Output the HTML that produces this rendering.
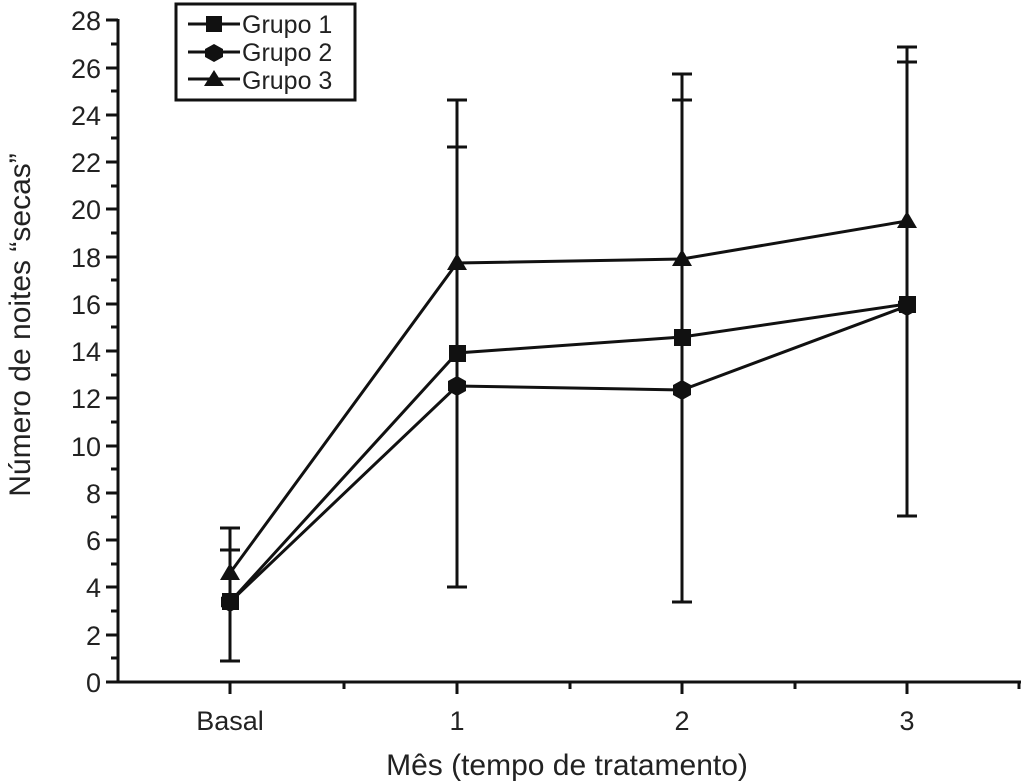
<!DOCTYPE html>
<html><head><meta charset="utf-8"><style>
body{margin:0;background:#fff}
svg{display:block}
text{font-family:"Liberation Sans",sans-serif;fill:#222}
</style></head><body>
<svg width="1024" height="782" viewBox="0 0 1024 782" xmlns="http://www.w3.org/2000/svg">
<g stroke="#111" stroke-width="3" fill="none">
<line x1="118" y1="19" x2="118" y2="683"/>
<line x1="117" y1="682" x2="1021" y2="682"/>
<path d="M106 682H118M106 635H118M106 587H118M106 540H118M106 493H118M106 446H118M106 398H118M106 351H118M106 304H118M106 257H118M106 209H118M106 162H118M106 115H118M106 68H118M106 20H118"/>
<path d="M111 658H118M111 611H118M111 564H118M111 517H118M111 469H118M111 422H118M111 375H118M111 327H118M111 280H118M111 233H118M111 186H118M111 138H118M111 91H118M111 44H118"/>
<path d="M230 682V694M457 682V694M682 682V694M907 682V694"/>
<path d="M344 682V689M570 682V689M795 682V689M1019 682V689"/>
</g>
<g font-size="27" text-anchor="end">
<text x="101" y="692">0</text><text x="101" y="645">2</text><text x="101" y="597">4</text><text x="101" y="550">6</text><text x="101" y="503">8</text><text x="101" y="456">10</text><text x="101" y="408">12</text><text x="101" y="361">14</text><text x="101" y="314">16</text><text x="101" y="267">18</text><text x="101" y="219">20</text><text x="101" y="172">22</text><text x="101" y="125">24</text><text x="101" y="78">26</text><text x="101" y="30">28</text>
</g>
<g font-size="27" text-anchor="middle">
<text x="230" y="730">Basal</text><text x="457" y="730">1</text><text x="682" y="730">2</text><text x="907" y="730">3</text>
<text x="567" y="775" font-size="30">Mês (tempo de tratamento)</text>
<text transform="translate(30,325) rotate(-90)" font-size="30">Número de noites “secas”</text>
</g>
<g stroke="#111" stroke-width="3">
<path d="M230 528V661M220 528H240M220 550H240M220 661H240"/>
<path d="M457 100V587M447 100H467M447 147H467M447 587H467"/>
<path d="M682 74V602M672 74H692M672 100H692M672 602H692"/>
<path d="M907 47V516M897 47H917M897 62H917M897 516H917"/>
</g>
<g stroke="#111" stroke-width="3" fill="none">
<polyline points="230,573 457,263 682,259 907,221"/>
<polyline points="230,602 457,353 682,337 907,304"/>
<polyline points="230,602 457,386 682,390 907,306"/>
</g>
<g fill="#111">
<path d="M230 592l9 5v10l-9 5-9-5v-10z"/><path d="M457 376l9 5v10l-9 5-9-5v-10z"/><path d="M682 380l9 5v10l-9 5-9-5v-10z"/><path d="M907 296l9 5v10l-9 5-9-5v-10z"/>
<rect x="222" y="593" width="17" height="17"/><rect x="449" y="345" width="17" height="17"/><rect x="674" y="329" width="17" height="17"/><rect x="899" y="296" width="17" height="17"/>
<path d="M230 563l10 17h-20z"/><path d="M457 253l10 17h-20z"/><path d="M682 249l10 17h-20z"/><path d="M907 211l10 17h-20z"/>
</g>
<rect x="176" y="4" width="179" height="96" fill="#fff" stroke="#111" stroke-width="3"/>
<g stroke="#111" stroke-width="3"><path d="M188 24H240M188 52H240M188 79H240"/></g>
<g fill="#111">
<rect x="206" y="16" width="16" height="16"/>
<path d="M214 44l9 5v8l-9 5-9-5v-8z"/>
<path d="M214 70l10 16h-20z"/>
</g>
<g font-size="25"><text x="242" y="33">Grupo 1</text><text x="242" y="61">Grupo 2</text><text x="242" y="89">Grupo 3</text></g>
</svg>
</body></html>
